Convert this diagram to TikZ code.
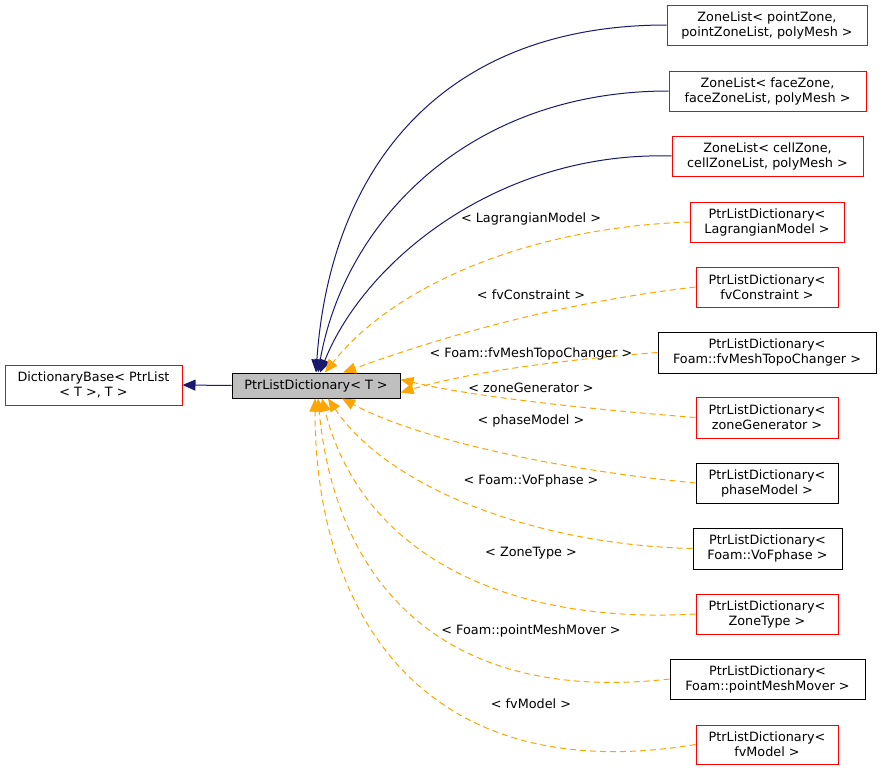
\documentclass[tikz,border=0pt]{standalone}
\usepackage{fontspec}
\setmainfont{DejaVu Sans}
\usetikzlibrary{arrows.meta}

\definecolor{edgeblue}{HTML}{191970}
\definecolor{edgeorange}{HTML}{FFA500}
\definecolor{boxred}{HTML}{FF0000}
\definecolor{boxgray}{HTML}{BFBFBF}

\tikzset{
  cls/.style={draw, fill=white, align=center, inner sep=0pt, line width=1pt, font=\fontsize{12.8}{15}\selectfont},
  redcls/.style={cls, draw=boxred},
  blackcls/.style={cls, draw=black},
  inherit/.style={draw=edgeblue, line width=1pt, -{Triangle[length=13pt,width=11pt]}},
  tmpl/.style={draw=edgeorange, line width=1pt, dash pattern=on 6pt off 4pt, -{Triangle[length=13pt,width=11pt,fill=edgeorange]}},
  lbl/.style={font=\fontsize{12.8}{15}\selectfont, inner sep=1pt}
}

\begin{document}
\begin{tikzpicture}[x=1pt, y=-1pt]
  \useasboundingbox (0,0) rectangle (881,771);

  % Mittlere Klasse und Basisklasse
  \node[cls, draw=black, fill=boxgray, minimum width=168, minimum height=25] (ptr) at (316,385.5) {PtrListDictionary< T >};
  \node[redcls, minimum width=177, minimum height=40] (dictbase) at (93.5,385) {DictionaryBase< PtrList\\< T >, T >};

  % ZoneList-Klassen
  \node[redcls, minimum width=200, minimum height=40] (pz) at (767,25) {ZoneList< pointZone,\\ pointZoneList, polyMesh >};
  \node[redcls, minimum width=197, minimum height=40] (fz) at (767.5,91) {ZoneList< faceZone,\\ faceZoneList, polyMesh >};
  \node[redcls, minimum width=191, minimum height=40] (cz) at (767.5,156) {ZoneList< cellZone,\\ cellZoneList, polyMesh >};

  % Instanziierungen
  \node[redcls, minimum width=154, minimum height=40] (lag) at (767,222) {PtrListDictionary<\\ LagrangianModel >};
  \node[redcls, minimum width=142, minimum height=40] (fvc) at (767,287) {PtrListDictionary<\\ fvConstraint >};
  \node[blackcls, minimum width=218, minimum height=41] (topo) at (767,352.5) {PtrListDictionary<\\ Foam::fvMeshTopoChanger >};
  \node[redcls, minimum width=142, minimum height=41] (zg) at (767,417.5) {PtrListDictionary<\\ zoneGenerator >};
  \node[blackcls, minimum width=142, minimum height=40] (pm) at (767,483) {PtrListDictionary<\\ phaseModel >};
  \node[blackcls, minimum width=149, minimum height=41] (vof) at (767.5,548.5) {PtrListDictionary<\\ Foam::VoFphase >};
  \node[redcls, minimum width=142, minimum height=40] (zt) at (767,614) {PtrListDictionary<\\ ZoneType >};
  \node[blackcls, minimum width=195, minimum height=40] (pmm) at (767.5,679) {PtrListDictionary<\\ Foam::pointMeshMover >};
  \node[redcls, minimum width=142, minimum height=39] (fvm) at (767,744.5) {PtrListDictionary<\\ fvModel >};

  % Vererbung
  \draw[inherit] (ptr.west) -- (dictbase.east);
  \draw[inherit] (pz.west) .. controls (440,25) and (330,170) .. ([xshift=0pt]ptr.north);
  \draw[inherit] (fz.west) .. controls (470,91) and (345,220) .. ([xshift=2pt]ptr.north);
  \draw[inherit] (cz.west) .. controls (500,151) and (365,260) .. ([xshift=4pt]ptr.north);

  % Template-Argumente
  \draw[tmpl] (lag.west) .. controls (520,228) and (390,290) .. ([xshift=9pt]ptr.north);
  \draw[tmpl] (fvc.west) .. controls (540,305) and (420,345) .. ([xshift=27pt]ptr.north);
  \draw[tmpl] (topo.west) .. controls (560,360) and (470,372) .. ([yshift=-7pt]ptr.east);
  \draw[tmpl] (zg.west) .. controls (600,410) and (480,398) .. ([yshift=6pt]ptr.east);
  \draw[tmpl] (pm.west) .. controls (560,470) and (420,440) .. ([xshift=26pt]ptr.south);
  \draw[tmpl] (vof.west) .. controls (540,545) and (390,490) .. ([xshift=12pt]ptr.south);
  \draw[tmpl] (zt.west) .. controls (500,625) and (360,550) .. ([xshift=6pt]ptr.south);
  \draw[tmpl] (pmm.west) .. controls (440,705) and (335,580) .. ([xshift=2pt]ptr.south);
  \draw[tmpl] (fvm.west) .. controls (420,790) and (315,610) .. ([xshift=-1pt]ptr.south);

  % Beschriftungen
  \node[lbl] (llag) at (531,219) {< LagrangianModel >};
  \node[lbl] (lfvc) at (531,295) {< fvConstraint >};
  \node[lbl] (ltopo) at (531,354) {< Foam::fvMeshTopoChanger >};
  \node[lbl] (lzg) at (531,387.5) {< zoneGenerator >};
  \node[lbl] (lpm) at (531,421) {< phaseModel >};
  \node[lbl] (lvof) at (531,481) {< Foam::VoFphase >};
  \node[lbl] (lzt) at (531,553) {< ZoneType >};
  \node[lbl] (lpmm) at (531,631) {< Foam::pointMeshMover >};
  \node[lbl] (lfvm) at (531,704) {< fvModel >};
\end{tikzpicture}
\end{document}
